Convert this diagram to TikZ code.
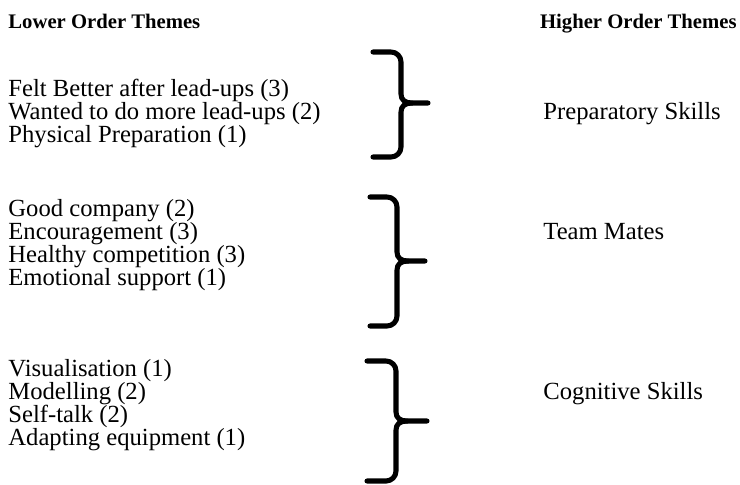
\documentclass[tikz,border=0pt]{standalone}
\usepackage{fontspec}
\setmainfont{Liberation Serif}
\newcommand\drawthemebrace[6]{%
  % #1 left x, #2 vertical x, #3 tip x, #4 top y, #5 mid y, #6 bottom y
  \draw[bracestyle] (#1,#4) -- ({#2-10},#4) to[out=0,in=90] (#2,{#4+10})
    -- (#2,{#5-9}) .. controls (#2,{#5-3}) and ({#2+4},#5) .. ({#2+11},#5) -- (#3,#5);
  \draw[bracestyle] ({#2+11},#5) .. controls ({#2+4},#5) and (#2,{#5+3}) .. (#2,{#5+9})
    -- (#2,{#6-10}) to[out=-90,in=0] ({#2-10},#6) -- (#1,#6);
}
\begin{document}
\begin{tikzpicture}[x=0.4545pt,y=-0.4545pt,
  txt/.style={anchor=base west,inner sep=0pt,font=\fontsize{11.2}{12}\selectfont},
  head/.style={anchor=base west,inner sep=0pt,font=\fontsize{9.4}{11}\selectfont\bfseries},
  bracestyle/.style={line width=2.3pt,line cap=round,line join=round}]
\useasboundingbox (0,0) rectangle (740,484);
\node[head] (hl) at (8,28) {Lower Order Themes};
\node[head,anchor=base east] (hr) at (737,28) {Higher Order Themes};
% group 1
\node[txt] (a1) at (8,96) {Felt Better after lead-ups (3)};
\node[txt] (a2) at (8,119) {Wanted to do more lead-ups (2)};
\node[txt] (a3) at (8,142) {Physical Preparation (1)};
\node[txt] (r1) at (543,119) {Preparatory Skills};
% group 2
\node[txt] (b1) at (8,216) {Good company (2)};
\node[txt] (b2) at (8,239) {Encouragement (3)};
\node[txt] (b3) at (8,262) {Healthy competition (3)};
\node[txt] (b4) at (8,285) {Emotional support (1)};
\node[txt] (r2) at (543,239) {Team Mates};
% group 3
\node[txt] (c1) at (8,376) {Visualisation (1)};
\node[txt] (c2) at (8,399) {Modelling (2)};
\node[txt] (c3) at (8,422) {Self-talk (2)};
\node[txt] (c4) at (8,445) {Adapting equipment (1)};
\node[txt] (r3) at (543,399) {Cognitive Skills};
% braces
\drawthemebrace{373}{401}{428}{52}{103}{157}
\drawthemebrace{370}{397}{425}{197}{261}{326}
\drawthemebrace{367}{396}{427}{361}{421}{481}
\end{tikzpicture}
\end{document}
